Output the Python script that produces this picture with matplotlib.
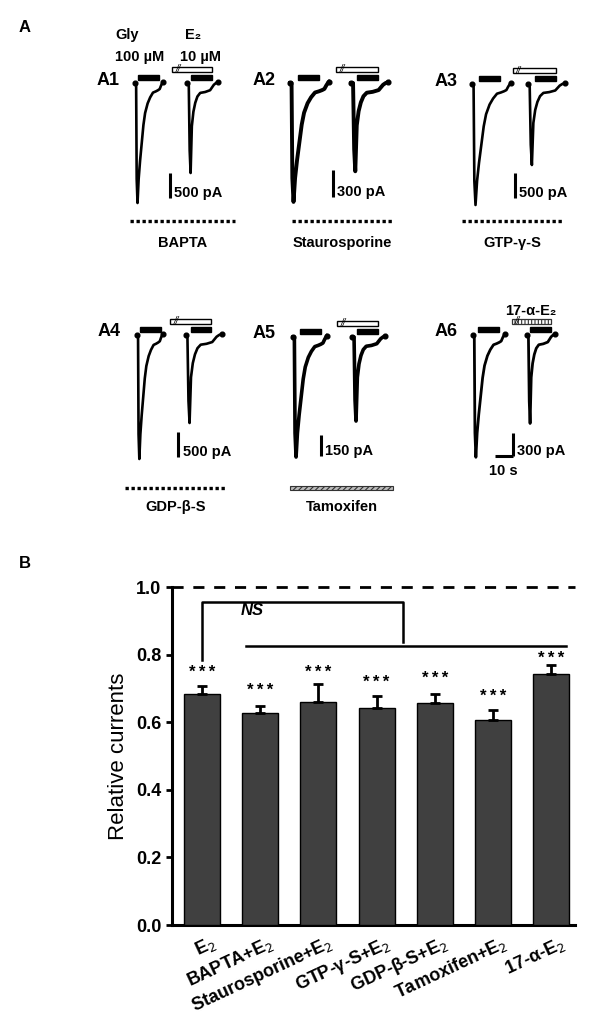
import matplotlib
matplotlib.use('Agg')
import matplotlib.pyplot as plt
import matplotlib.transforms as mtransforms
from matplotlib.patches import Rectangle
import numpy as np

plt.rcParams['font.family'] = ['Liberation Sans', 'DejaVu Sans']
plt.rcParams['hatch.linewidth'] = 0.8

# ===== DATOS PANEL A (registros) =====
panel_names = ['A1', 'A2', 'A3', 'A4', 'A5', 'A6']
drug_names = ['BAPTA', 'Staurosporine', 'GTP-γ-S', 'GDP-β-S', 'Tamoxifen', '']
scale_pa = [500, 300, 500, 500, 150, 300]            # barra de escala (pA)
ctrl_peak_pa = [2400, 1320, 2420, 2480, 857, 1590]   # pico control (Gly)
e2_peak_pa = [1800, 980, 1620, 1760, 600, 1150]      # pico con E2
ctrl_dur_s = [15.6, 21.7, 21.7, 14.4, 18.9, 17.8]
e2_dur_s = [17.2, 20.6, 20.6, 20.0, 18.3, 15.6]
sweep_gap_s = [29, 34, 31, 27, 33, 30]
gly_on_s = [1.7, 4.4, 3.9, 1.7, 3.9, 2.8]
gly2_on_s = [2.2, 3.3, 3.9, 2.8, 2.8, 1.7]
gly_dur_s = 11.5
e2_pre_s = 8.5

# forma normalizada de las corrientes (fracción de duración, fracción del pico)
ctrl_shape_x = [0, 0.04, 0.06, 0.09, 0.13, 0.18, 0.24, 0.30, 0.36, 0.45, 0.54, 0.64, 0.74, 0.82, 0.88, 0.93, 0.97, 1.0]
ctrl_shape_y = [0, 0, -0.8, -1.0, -0.8, -0.65, -0.5, -0.35, -0.25, -0.17, -0.12, -0.08, -0.07, -0.06, -0.05, -0.02, 0.0, 0.01]
e2_shape_x = [0, 0.05, 0.08, 0.11, 0.15, 0.20, 0.26, 0.33, 0.42, 0.50, 0.58, 0.66, 0.74, 0.80, 0.86, 0.93, 1.0]
e2_shape_y = [0, 0, -0.75, -1.0, -0.48, -0.32, -0.22, -0.15, -0.11, -0.105, -0.1, -0.09, -0.08, -0.05, -0.02, 0.0, 0.01]

# ===== DATOS PANEL B =====
conditions = ['E$_2$', 'BAPTA+E$_2$', 'Staurosporine+E$_2$', 'GTP-γ-S+E$_2$',
              'GDP-β-S+E$_2$', 'Tamoxifen+E$_2$', '17-α-E$_2$']
relative = [0.683, 0.628, 0.660, 0.642, 0.657, 0.606, 0.742]
sem = [0.024, 0.021, 0.052, 0.035, 0.027, 0.031, 0.026]
star_y = [0.757, 0.702, 0.757, 0.725, 0.737, 0.686, 0.796]

# ===== FIGURA =====
W, H = 600, 1019
fig = plt.figure(figsize=(6, 10.19), dpi=100)


def fx(x):
    return x / W


def fy(y):
    return 1 - y / H


# eje de superposición en píxeles para textos y líneas decorativas
ov = fig.add_axes([0, 0, 1, 1])
ov.set_xlim(0, W)
ov.set_ylim(H, 0)
ov.axis('off')

# posiciones (píxeles) de cada panel
trace_x0 = [135, 290, 472, 137, 293, 473]
base_y = [83, 83, 84, 335, 337, 335]
pa_per_px = [20, 11.1, 20, 20, 7.14, 13.0]
trace_lw = [1.9, 2.8, 1.9, 1.9, 2.6, 2.0]
scale_t = [19.5, 24, 24, 23, 15.5, 22]
scale_bottom_px = [115, 114, 114, 122, 119, 121]
label_x = [108, 264, 446, 109, 264, 446]
PX_PER_S = 1.8
TOP, BOT = 30, 140

for i in range(6):
    x0, by, ppx = trace_x0[i], base_y[i], pa_per_px[i]
    ax = fig.add_axes([fx(x0 - 10), fy(by + BOT), 120 / W, (TOP + BOT) / H])
    ax.set_xlim(-10 / PX_PER_S, 110 / PX_PER_S)
    ax.set_ylim(-BOT * ppx, TOP * ppx)
    ax.axis('off')
    tr = mtransforms.blended_transform_factory(ax.transData, ax.transAxes)

    def yf(px_above):
        return (BOT + px_above) / (TOP + BOT)

    # corrientes
    t1 = np.array(ctrl_shape_x) * ctrl_dur_s[i]
    c1 = np.array(ctrl_shape_y) * ctrl_peak_pa[i]
    t2 = np.array(e2_shape_x) * e2_dur_s[i] + sweep_gap_s[i]
    c2 = np.array(e2_shape_y) * e2_peak_pa[i]
    for t, c in [(t1, c1), (t2, c2)]:
        ax.plot(t, c, color='black', lw=trace_lw[i], solid_joinstyle='round')
        ax.plot([t[0], t[-1]], [c[0], c[-1]], 'o', color='black', ms=3.4)

    # barras de aplicación de glicina
    for on in [gly_on_s[i], sweep_gap_s[i] + gly2_on_s[i]]:
        ax.add_patch(Rectangle((on, yf(3)), gly_dur_s, yf(8) - yf(3), transform=tr,
                               facecolor='black', edgecolor='black', clip_on=False))
    # barra E2 (o 17-α-E2)
    e_start = sweep_gap_s[i] - e2_pre_s
    e_end = sweep_gap_s[i] + gly2_on_s[i] + gly_dur_s
    if i == 5:
        ax.add_patch(Rectangle((e_start, yf(11)), e_end - e_start, yf(16) - yf(11), transform=tr,
                               facecolor='white', edgecolor='#333333', hatch='|||||', lw=0.9, clip_on=False))
    else:
        ax.add_patch(Rectangle((e_start, yf(11)), e_end - e_start, yf(16) - yf(11), transform=tr,
                               facecolor='white', edgecolor='black', lw=1.0, clip_on=False))
    ax.text(e_start + 3.3, yf(13.5), '//', transform=tr, fontsize=7, style='italic',
            ha='center', va='center', color='black')

    # barra de escala
    sb_bottom = -scale_bottom_px[i] * ppx
    ax.plot([scale_t[i], scale_t[i]], [sb_bottom, sb_bottom + scale_pa[i]],
            color='black', lw=2.2, solid_capstyle='butt', clip_on=False)
    ax.annotate(f'{scale_pa[i]} pA', xy=(scale_t[i], sb_bottom), xytext=(3, 1),
                textcoords='offset points', ha='left', va='baseline',
                fontsize=10.5, fontweight='bold')
    if i == 5:
        ax.plot([scale_t[i] - 10, scale_t[i]], [sb_bottom, sb_bottom],
                color='black', lw=2.2, solid_capstyle='butt', clip_on=False)
        ax.annotate('10 s', xy=(scale_t[i] - 5, sb_bottom), xytext=(0, -6),
                    textcoords='offset points', ha='center', va='top',
                    fontsize=10.5, fontweight='bold')

    # etiqueta del panel
    ov.text(label_x[i], by - 3, panel_names[i], fontsize=13, fontweight='bold',
            ha='center', va='center')

# líneas de fármaco bajo los registros
drug_line = [(130, 235, 221), (292, 393, 221), (462, 562, 221), (125, 226, 488), (290, 393, 488)]
drug_text_y = [243, 243, 243, 507, 507]
for i, (xa, xb, yl) in enumerate(drug_line):
    if i == 4:
        ov.add_patch(Rectangle((xa, yl - 2), xb - xa, 4, facecolor='#bbbbbb', edgecolor='#333333',
                               hatch='//////', lw=0.8))
    else:
        ov.plot([xa, xb], [yl, yl], color='black', lw=2.4, ls=(0, (1.0, 0.8)))
    ov.text((xa + xb) / 2, drug_text_y[i], drug_names[i], fontsize=10.5, fontweight='bold',
            ha='center', va='center')

# textos superiores
ov.text(127, 35, 'Gly', fontsize=10.5, fontweight='bold', ha='center', va='center')
ov.text(140, 57, '100 µM', fontsize=10.5, fontweight='bold', ha='center', va='center')
ov.text(193, 35, 'E₂', fontsize=10.5, fontweight='bold', ha='center', va='center')
ov.text(201, 57, '10 µM', fontsize=10.5, fontweight='bold', ha='center', va='center')
ov.text(531, 311, '17-α-E₂', fontsize=10.5, fontweight='bold', ha='center', va='center')
ov.text(25, 27, 'A', fontsize=12, fontweight='bold', ha='center', va='center')
ov.text(25, 563, 'B', fontsize=12, fontweight='bold', ha='center', va='center')

# ===== PANEL B: barras =====
axb = fig.add_axes([fx(172), fy(925), (575 - 172) / W, (925 - 587) / H])
x = np.arange(len(conditions))
axb.bar(x, relative, width=0.62, color='#404040', edgecolor='black', linewidth=1,
        yerr=[np.zeros(len(sem)), sem],
        error_kw=dict(ecolor='black', elinewidth=2, capsize=3.5, capthick=2), zorder=3)
axb.set_xlim(-0.516, 6.41)
axb.set_ylim(0, 1.0)
for s in ['top', 'right']:
    axb.spines[s].set_visible(False)
for s in ['left', 'bottom']:
    axb.spines[s].set_linewidth(2.2)
axb.set_yticks([0, 0.2, 0.4, 0.6, 0.8, 1.0])
axb.set_yticklabels([f'{v:.1f}' for v in [0, 0.2, 0.4, 0.6, 0.8, 1.0]],
                    fontsize=13, fontweight='bold')
axb.tick_params(axis='y', direction='out', length=4.5, width=2, pad=3)
axb.set_xticks(x)
axb.set_xticklabels(conditions, rotation=25, ha='right', rotation_mode='anchor',
                    fontsize=13, fontweight='bold')
axb.tick_params(axis='x', length=0, pad=6)
offset = mtransforms.ScaledTranslation(6 / 72, 0, fig.dpi_scale_trans)
for lab in axb.get_xticklabels():
    lab.set_transform(lab.get_transform() + offset)
axb.set_ylabel('Relative currents', fontsize=16, labelpad=5)

# línea discontinua en 1.0
axb.plot([-0.516, 6.41], [1.0, 1.0], color='black', lw=2, ls=(0, (4, 3.5)), clip_on=False)

# asteriscos
for i in range(len(relative)):
    axb.text(x[i], star_y[i] - 0.009, '*\u2009*\u2009*', ha='center', va='center',
             fontsize=12, fontweight='bold')

# corchete NS
axb.plot([0, 0, 3.46, 3.46], [0.784, 0.956, 0.956, 0.838], color='black', lw=1.8)
axb.plot([0.75, 6.25], [0.825, 0.825], color='black', lw=1.8)
axb.text(0.86, 0.93, 'NS', fontsize=12, fontweight='bold', style='italic',
         ha='center', va='center')

plt.savefig('out.png', dpi=100)
